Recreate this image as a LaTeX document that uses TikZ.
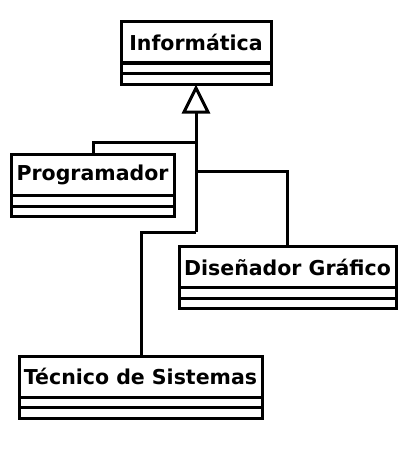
\documentclass[tikz,border=0pt]{standalone}
\usepackage{fontspec}
\setmainfont{DejaVu Sans}
\usetikzlibrary{arrows.meta}
\begin{document}
\begin{tikzpicture}[x=1pt,y=-1pt,
  lw/.style={line width=3pt},
  classhead/.style={draw,lw,minimum height=41pt,inner sep=0pt,outer sep=0pt,font=\fontsize{20.5}{24}\selectfont\bfseries},
  conn/.style={lw,line join=miter}]
\useasboundingbox (0,0) rectangle (407,460);
% Informatica
\node[classhead,minimum width=150pt] (inf) at (196,42.5) {Informática};
\draw[lw] (inf.south west) rectangle ++(150,10.5) ++(-150,0) rectangle ++(150,10.5);
% Programador
\node[classhead,minimum width=163pt] (prog) at (92.5,175) {Programador};
\draw[lw] (prog.south west) rectangle ++(163,10.5) ++(-163,0) rectangle ++(163,10.5);
% Disenador
\node[classhead,minimum width=217pt] (dis) at (287.5,267) {Diseñador Gráfico};
\draw[lw] (dis.south west) rectangle ++(217,10.5) ++(-217,0) rectangle ++(217,10.5);
% Tecnico
\node[classhead,minimum width=243pt] (tec) at (140.5,376.5) {Técnico de Sistemas};
\draw[lw] (tec.south west) rectangle ++(243,10.5) ++(-243,0) rectangle ++(243,10.5);
% connectors
\coordinate (hub) at (196,142);
\coordinate (c1) at (196,171);
\coordinate (c2) at (196,232);
\path (inf.south) ++(0,49) coordinate (base);
\draw[conn] (c2) -- (base);
\draw[lw,fill=white,line join=miter] ([yshift=-25pt]inf.south) -- ++(12,24) -- ++(-24,0) -- cycle;
\draw[conn] ([xshift=0.5pt]prog.north) |- (hub);
\draw[conn] (c1) -| ([xshift=-0.5pt]dis.north);
\draw[conn] (c2) -| ([xshift=0.5pt]tec.north);
\end{tikzpicture}
\end{document}
